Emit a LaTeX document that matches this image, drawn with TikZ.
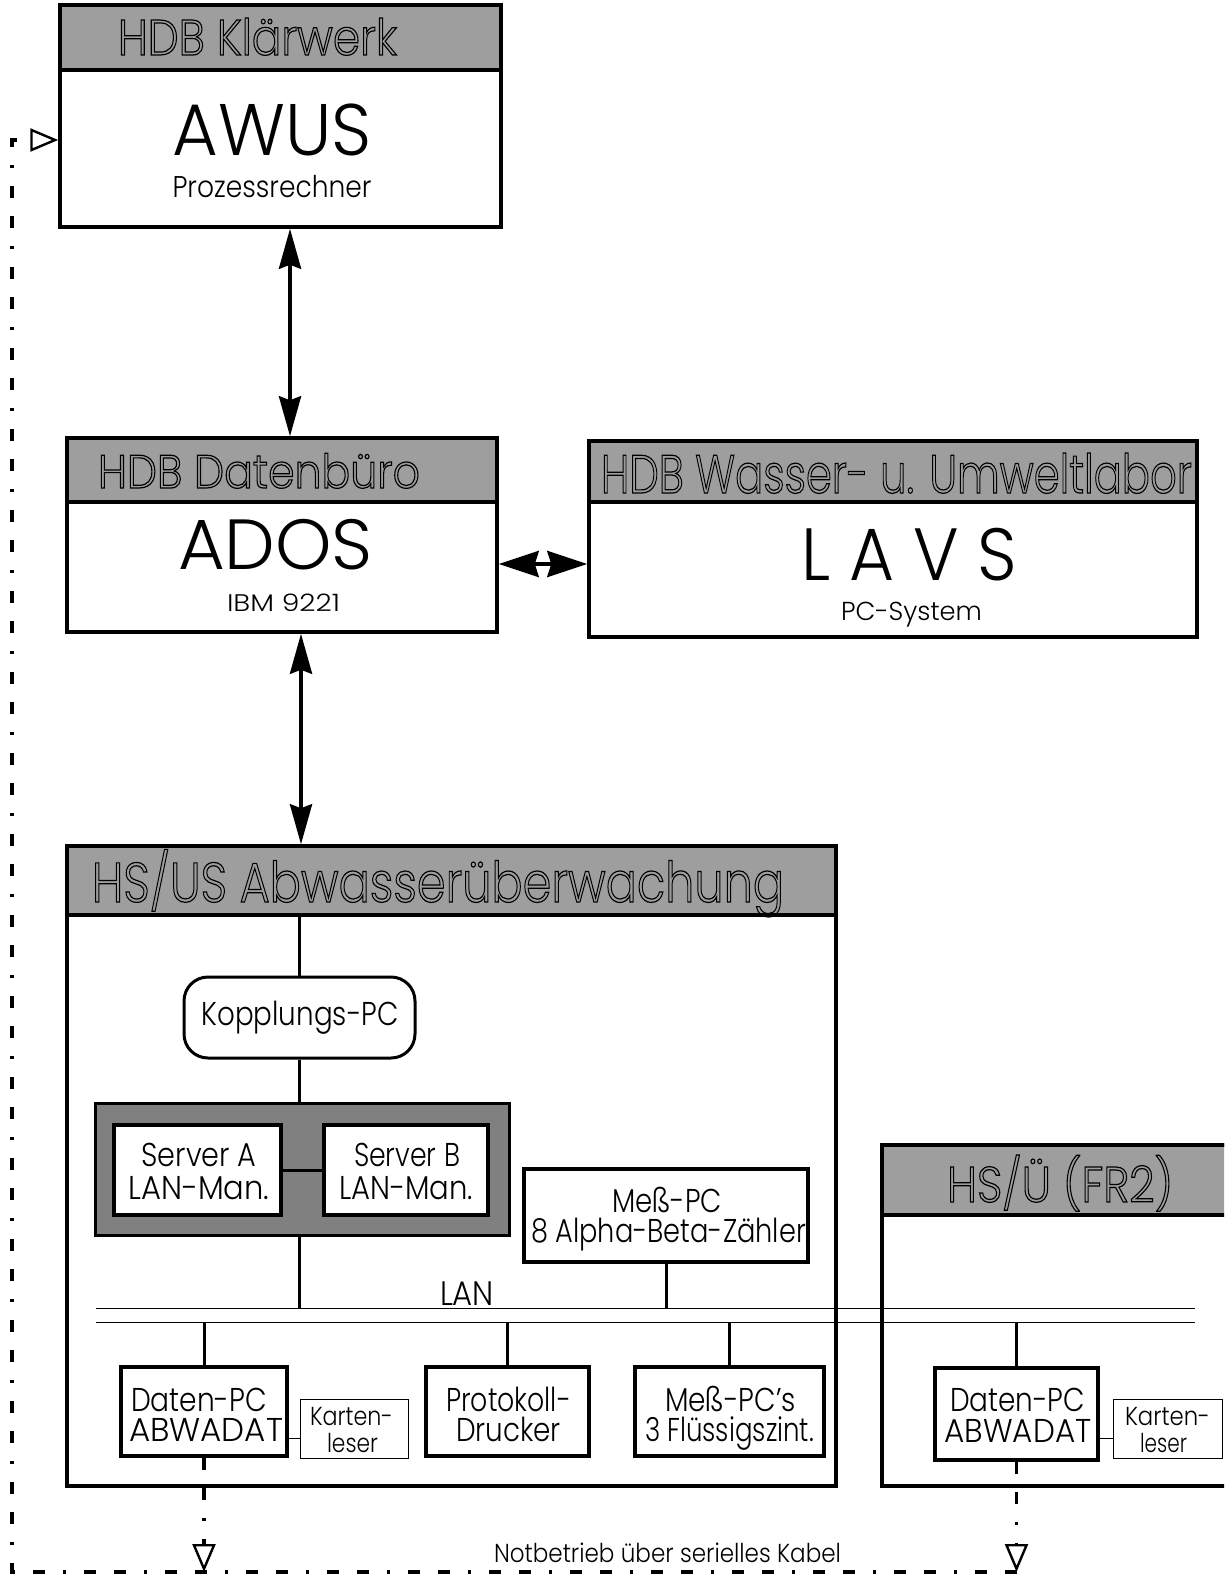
\documentclass[tikz,border=0pt]{standalone}
\usepackage{fontspec}
\setmainfont{Poppins Light}
\usetikzlibrary{arrows.meta}
\definecolor{hdrgray}{gray}{0.62}
\definecolor{grpgray}{gray}{0.5}
% scale a text horizontally to a given width (in pt)
\newsavebox\fitbox
\newcommand\fitx[2]{\sbox\fitbox{#2}\edef\fitw{\the\wd\fitbox}%
  \pgfmathsetmacro\fitfac{#1/\fitw}\scalebox{\fitfac}[1]{\usebox\fitbox}}
% hollow (stroked) lettering for the panel titles
\newcommand\outl[1]{\special{pdf:literal direct 1 Tr 1.2 w}#1\special{pdf:literal direct 0 Tr}}
% one line of text: name, x, baseline y, size, width, text
\newcommand\lbl[6]{\node[anchor=base,inner sep=0pt,outer sep=0pt] (#1) at (#2,#3)
  {\fontsize{#4}{#4}\selectfont\fitx{#5}{#6}};}
% framed panel with shaded title bar: name, x1, y1, x2, y2, title bottom
\newcommand\panel[6]{%
  \node[frame,minimum width={(#4-#2)*1pt},minimum height={(#5-#3)*1pt}] (#1) at ({(#2+#4)/2},{(#3+#5)/2}) {};
  \node[titlebar,minimum width={(#4-#2)*1pt},minimum height={(#6-#3)*1pt}] (#1-h) at ({(#2+#4)/2},{(#3+#6)/2}) {};}
% plain box: style, name, x1, y1, x2, y2
\newcommand\boxat[6]{%
  \node[#1,minimum width={(#5-#3)*1pt},minimum height={(#6-#4)*1pt}] (#2) at ({(#3+#5)/2},{(#4+#6)/2}) {};}
\tikzset{
  frame/.style={draw,line width=3.5pt,fill=white,rectangle,inner sep=0pt},
  titlebar/.style={draw,line width=3.5pt,fill=hdrgray,rectangle,inner sep=0pt},
  unit/.style={draw,line width=3.5pt,fill=white,rectangle,inner sep=0pt},
  thinunit/.style={draw,line width=1pt,fill=white,rectangle,inner sep=0pt},
  coupler/.style={draw,line width=3pt,fill=white,rectangle,rounded corners=24pt,inner sep=0pt},
  group/.style={draw,line width=3pt,fill=grpgray,rectangle,inner sep=0pt},
  link/.style={line width=3pt},
  thinlink/.style={line width=0.8pt},
  bus/.style={line width=0.8pt},
  bigarrow/.style={line width=4pt,
    {Stealth[length=40pt,width=22pt,inset=4pt]}-{Stealth[length=40pt,width=22pt,inset=4pt]}},
  sidearrow/.style={line width=4pt,
    {Stealth[length=40pt,width=26pt,inset=4pt]}-{Stealth[length=40pt,width=26pt,inset=4pt]}},
  serial/.style={line width=3.5pt,
    dash pattern=on 12pt off 18pt on 12pt off 18pt on 3pt off 18pt},
  opentip/.style={-{Triangle[open,length=28pt,width=23pt,line width=2.4pt]}},
}
\begin{document}
\begin{tikzpicture}[x=1pt,y=-1pt]
\useasboundingbox (0,0) rectangle (1224,1580);
\clip (0,0) rectangle (1224,1580);

% ---------- system panels ----------
\panel{awus}{60}{5}{501}{227}{70}
\panel{ados}{67}{438}{497}{632}{502}
\panel{lavs}{589}{441}{1197}{637}{502}
\panel{hsus}{67}{846}{836}{1486}{915}
\panel{hsu}{882}{1145}{1260}{1486}{1215}

\lbl{t-awus-h}{257.5}{55}{50}{279}{\outl{HDB Klärwerk}}
\lbl{t-awus}{272}{155}{73}{199}{AWUS}
\lbl{t-awus-s}{272}{197}{30}{199}{Prozessrechner}

\lbl{t-ados-h}{259}{488}{47}{322}{\outl{HDB Datenbüro}}
\lbl{t-ados}{275.5}{569}{71}{195}{ADOS}
\lbl{t-ados-s}{283.5}{611}{24}{113}{IBM 9221}

\lbl{t-lavs-h}{896.5}{493}{54}{591}{\outl{HDB Wasser- u. Umweltlabor}}
\lbl{t-lavs}{909}{580}{74}{216}{L A V S}
\lbl{t-lavs-s}{911.5}{620}{26}{141}{PC-System}

\lbl{t-hsus-h}{438}{902}{56}{692}{\outl{HS/US Abwasserüberwachung}}
\lbl{t-hsu-h}{1060}{1202}{50}{226}{\outl{HS/Ü (FR2)}}

% ---------- links between the systems ----------
\coordinate (xa) at (290,0);
\coordinate (xb) at (301,0);
\coordinate (ya) at (0,564);
\draw[bigarrow] (awus.south -| xa) -- (ados-h.north -| xa);
\draw[bigarrow] (ados.south -| xb) -- (hsus-h.north -| xb);
\draw[sidearrow] (ados.east |- ya) -- (lavs.west |- ya);

% ---------- HS/US network ----------
\boxat{coupler}{kop}{184}{977}{415}{1058}
\lbl{t-kop}{300}{1025}{33}{197}{Kopplungs-PC}

\boxat{group}{grp}{95}{1103}{509}{1235}
\boxat{unit}{srva}{114}{1125}{281}{1215}
\boxat{unit}{srvb}{324}{1125}{488}{1215}
\draw[link] (srva) -- (srvb);
\lbl{t-srva1}{199}{1166}{33}{115}{Server A}
\lbl{t-srva2}{199}{1199}{33}{141}{LAN-Man.}
\lbl{t-srvb1}{407}{1166}{33}{106}{Server B}
\lbl{t-srvb2}{406}{1199}{33}{134}{LAN-Man.}

\boxat{unit}{mess}{524}{1169}{808}{1262}
\lbl{t-mess1}{667}{1212}{33}{110}{Meß-PC}
\lbl{t-mess2}{668.5}{1242}{33}{275}{8 Alpha-Beta-Zähler}

\draw[link] (hsus-h.south -| kop.north) -- (kop.north);
\draw[link] (kop.south) -- (kop.south |- grp.north);

% LAN double line
\coordinate (lan1a) at (96,1308);
\coordinate (lan1b) at (1195,1308);
\coordinate (lan2a) at (96,1322);
\coordinate (lan2b) at (1195,1322);
\draw[bus] (lan1a) -- (lan1b);
\draw[bus] (lan2a) -- (lan2b);
\lbl{t-lan}{467}{1305}{34}{54}{LAN}

\draw[link] (kop.south |- grp.south) -- (kop.south |- lan1a);
\draw[link] (mess.south) -- (mess.south |- lan1a);

% stations on the LAN
\boxat{unit}{dpca}{121}{1367}{287}{1456}
\boxat{thinunit}{kla}{300}{1399}{408}{1458}
\boxat{unit}{druck}{426}{1367}{589}{1456}
\boxat{unit}{fsz}{635}{1367}{824}{1456}
\boxat{unit}{dpcb}{935}{1368}{1098}{1460}
\boxat{thinunit}{klb}{1113}{1399}{1222}{1458}

\draw[link] (dpca.north |- lan2a) -- (dpca.north);
\draw[link] (druck.north |- lan2a) -- (druck.north);
\draw[link] (fsz.north |- lan2a) -- (fsz.north);
\draw[link] (dpcb.north |- lan2a) -- (dpcb.north);

\coordinate (yk) at (0,1438);
\draw[thinlink] (dpca.east |- yk) -- (kla.west |- yk);
\draw[thinlink] (dpcb.east |- yk) -- (klb.west |- yk);

\lbl{t-dpca1}{199}{1411}{33}{136}{Daten-PC}
\lbl{t-dpca2}{206}{1441}{33}{154}{ABWADAT}
\lbl{t-kla1}{351.5}{1425}{26}{83}{Karten-}
\lbl{t-kla2}{352.5}{1452}{26}{51}{leser}
\lbl{t-druck1}{508.5}{1411}{33}{125}{Protokoll-}
\lbl{t-druck2}{508.5}{1441}{33}{105}{Drucker}
\lbl{t-fsz1}{730.5}{1411}{33}{131}{Meß-PC’s}
\lbl{t-fsz2}{729.5}{1441}{33}{169}{3 Flüssigszint.}
\lbl{t-dpcb1}{1017.5}{1411}{33}{135}{Daten-PC}
\lbl{t-dpcb2}{1018}{1442}{33}{147}{ABWADAT}
\lbl{t-klb1}{1167.5}{1425}{26}{85}{Karten-}
\lbl{t-klb2}{1163.5}{1452}{26}{47}{leser}

% ---------- emergency serial cable ----------
\coordinate (cbr) at (1017,1572);
\coordinate (cbl) at (12,1572);
\coordinate (ctl) at (12,140);
\draw[serial,opentip] (dpca.south) -- (dpca.south |- cbl);
\draw[serial,opentip] (dpcb.south) -- (dpcb.south |- cbl);
\draw[serial,opentip] (cbr) -- (cbl) -- (ctl) -- (awus.west |- ctl);
\lbl{t-serial}{667.5}{1562}{26}{347}{Notbetrieb über serielles Kabel}
\end{tikzpicture}
\end{document}
